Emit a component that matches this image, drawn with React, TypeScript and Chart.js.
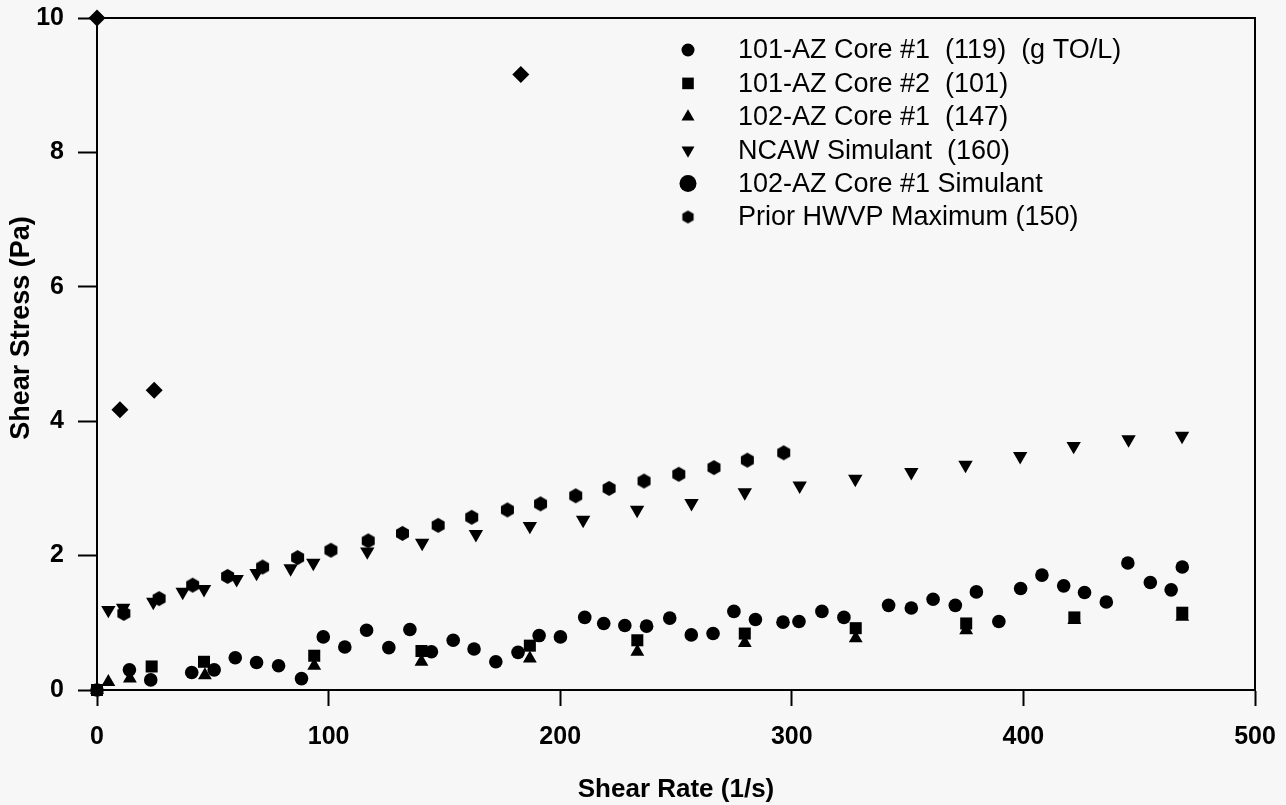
import { useEffect, useRef } from 'react';
import { Chart, registerables } from 'chart.js';
import { drawPoint } from 'chart.js/helpers';

Chart.register(...registerables);

// ---------- data ----------
const seriesLabels = [
  '101-AZ Core #1  (119)  (g TO/L)',
  '101-AZ Core #2  (101)',
  '102-AZ Core #1  (147)',
  'NCAW Simulant  (160)',
  '102-AZ Core #1 Simulant',
  'Prior HWVP Maximum (150)',
];

const xTicks = [0, 100, 200, 300, 400, 500];
const yTicks = [0, 2, 4, 6, 8, 10];

const core1X = [0, 14, 23.2, 40.9, 50.6, 59.7, 68.9, 78.4, 88.3, 97.7, 107, 116.4, 126, 135.1, 144.4, 153.8, 162.8, 172.2, 181.8, 190.9, 200.1, 210.6, 218.8, 227.9, 237.3, 247.3, 256.6, 266, 275, 284.3, 296.2, 303.1, 313, 322.5, 341.8, 351.6, 361, 370.6, 379.7, 389.4, 398.8, 408, 417.4, 426.4, 435.8, 445.1, 454.8, 463.8, 468.6];
const core1Y = [0, 0.3, 0.15, 0.26, 0.3, 0.48, 0.41, 0.36, 0.17, 0.79, 0.64, 0.89, 0.63, 0.9, 0.57, 0.74, 0.61, 0.42, 0.56, 0.81, 0.79, 1.08, 0.99, 0.96, 0.95, 1.07, 0.82, 0.84, 1.17, 1.05, 1.01, 1.02, 1.17, 1.08, 1.26, 1.22, 1.35, 1.26, 1.46, 1.02, 1.51, 1.71, 1.55, 1.45, 1.31, 1.89, 1.6, 1.49, 1.83];

const core2X = [0, 23.6, 46.2, 93.8, 140.1, 186.9, 233.3, 279.7, 327.6, 375.3, 422, 468.6];
const core2Y = [0, 0.35, 0.42, 0.51, 0.58, 0.66, 0.74, 0.84, 0.92, 0.99, 1.08, 1.15];

const az102X = [0, 4.9, 14.2, 46.6, 93.8, 140.1, 186.9, 233.3, 279.7, 327.6, 375.3, 422, 468.6];
const az102Y = [0, 0.12, 0.17, 0.22, 0.36, 0.42, 0.47, 0.57, 0.7, 0.77, 0.89, 1.04, 1.09];

const ncawX = [4.9, 11.3, 24.3, 37, 46.2, 60.3, 68.9, 83.6, 93.4, 116.7, 140.4, 163.6, 186.9, 209.9, 233.2, 256.7, 279.7, 303.4, 327.4, 351.6, 375, 398.6, 421.7, 445.4, 468.5];
const ncawY = [1.19, 1.22, 1.31, 1.46, 1.5, 1.65, 1.74, 1.81, 1.89, 2.06, 2.19, 2.32, 2.44, 2.53, 2.68, 2.78, 2.94, 3.04, 3.14, 3.24, 3.35, 3.48, 3.63, 3.73, 3.78];

const simX = [0, 9.9, 24.7, 183];
const simY = [10, 4.17, 4.46, 9.16];

const hwvpX = [11.6, 26.8, 41.3, 56.4, 71.5, 86.6, 101, 117.1, 131.9, 147.3, 161.8, 177.2, 191.5, 206.7, 221.1, 236.2, 251.2, 266.4, 280.8, 296.5];
const hwvpY = [1.14, 1.36, 1.56, 1.69, 1.83, 1.97, 2.08, 2.22, 2.33, 2.45, 2.57, 2.68, 2.77, 2.89, 3.0, 3.11, 3.21, 3.31, 3.42, 3.53];

const xTitle = 'Shear Rate (1/s)';
const yTitle = 'Shear Stress (Pa)';

// ---------- helpers ----------
const INK = '#000000';
const BG = '#f7f7f7';
const FONT = '"Liberation Sans", Arial, sans-serif';

function makeHexagon(r: number) {
  const c = document.createElement('canvas');
  const s = Math.ceil(r * 2 + 2);
  c.width = s;
  c.height = s;
  const g = c.getContext('2d')!;
  g.fillStyle = INK;
  g.beginPath();
  for (let i = 0; i < 6; i++) {
    const a = (Math.PI / 3) * i - Math.PI / 2;
    const px = s / 2 + r * Math.cos(a);
    const py = s / 2 + r * Math.sin(a);
    if (i === 0) g.moveTo(px, py);
    else g.lineTo(px, py);
  }
  g.closePath();
  g.fill();
  return c;
}

const pts = (xs: number[], ys: number[]) => xs.map((x, i) => ({ x, y: ys[i] }));

export default function App() {
  const ref = useRef<HTMLCanvasElement | null>(null);

  useEffect(() => {
    document.body.style.margin = '0';
    document.body.style.background = BG;
    const canvas = ref.current!;
    const hex = makeHexagon(7.5);
    const hexSmall = makeHexagon(6.5);

    const legendSymbols: any[] = [
      { pointStyle: 'circle', radius: 6.5, rotation: 0 },
      { pointStyle: 'rect', radius: 8.2, rotation: 0 },
      { pointStyle: 'triangle', radius: 7.5, rotation: 0 },
      { pointStyle: 'triangle', radius: 7.5, rotation: 180 },
      { pointStyle: 'circle', radius: 8.5, rotation: 0 },
      { pointStyle: hexSmall, radius: 6.5, rotation: 0 },
    ];

    const bgPlugin = {
      id: 'bg',
      beforeDraw(chart: any) {
        const { ctx, width, height } = chart;
        ctx.save();
        ctx.fillStyle = BG;
        ctx.fillRect(0, 0, width, height);
        ctx.restore();
      },
    };

    const framePlugin = {
      id: 'frame',
      beforeDatasetsDraw(chart: any) {
        const { ctx, chartArea: a } = chart;
        ctx.save();
        ctx.strokeStyle = INK;
        ctx.lineWidth = 2;
        ctx.beginPath();
        ctx.moveTo(a.left, a.top);
        ctx.lineTo(a.right, a.top);
        ctx.lineTo(a.right, a.bottom);
        ctx.stroke();
        ctx.restore();
      },
    };

    const textPlugin = {
      id: 'texts',
      afterDraw(chart: any) {
        const { ctx, chartArea: a } = chart;
        ctx.save();
        ctx.fillStyle = INK;
        ctx.strokeStyle = INK;
        // axis titles
        ctx.textAlign = 'center';
        ctx.textBaseline = 'middle';
        ctx.font = `bold 26px ${FONT}`;
        ctx.fillText(xTitle, (a.left + a.right) / 2, a.bottom + 100);
        ctx.save();
        ctx.translate(22, (a.top + a.bottom) / 2 - 26);
        ctx.rotate(-Math.PI / 2);
        ctx.font = `bold 27px ${FONT}`;
        ctx.fillText(yTitle, 0, 0);
        ctx.restore();
        // legend
        ctx.font = `27px ${FONT}`;
        ctx.textAlign = 'left';
        seriesLabels.forEach((label, i) => {
          const y = a.top + 32 + i * 33.4;
          const sym = legendSymbols[i];
          ctx.fillStyle = INK;
          drawPoint(ctx, { pointStyle: sym.pointStyle, radius: sym.radius, rotation: sym.rotation, borderWidth: 0 } as any, a.left + 591, y);
          ctx.fillStyle = INK;
          ctx.fillText(label, a.left + 641, y + 1);
        });
        ctx.restore();
      },
    };

    const common = {
      backgroundColor: INK,
      borderColor: INK,
      borderWidth: 0,
      showLine: false,
      clip: false as any,
    };

    const chart = new Chart(canvas, {
      type: 'scatter',
      data: {
        datasets: [
          { ...common, label: seriesLabels[0], data: pts(core1X, core1Y), pointStyle: 'circle', pointRadius: 6.8 },
          { ...common, label: seriesLabels[2], data: pts(az102X, az102Y), pointStyle: 'triangle', pointRadius: 8 },
          { ...common, label: seriesLabels[1], data: pts(core2X, core2Y), pointStyle: 'rect', pointRadius: 8.5 },
          { ...common, label: seriesLabels[3], data: pts(ncawX, ncawY), pointStyle: 'triangle', rotation: 180, pointRadius: 8.3 },
          { ...common, label: seriesLabels[4], data: pts(simX, simY), pointStyle: 'rectRot', pointRadius: 8.5 },
          { ...common, label: seriesLabels[5], data: pts(hwvpX, hwvpY), pointStyle: hex as any, pointRadius: 7.5 },
        ] as any,
      },
      plugins: [bgPlugin, framePlugin, textPlugin],
      options: {
        animation: false,
        responsive: false,
        devicePixelRatio: 1,
        layout: { padding: { left: 0, top: 18, right: 31, bottom: 0 } },
        plugins: {
          legend: { display: false },
          tooltip: { enabled: false },
        },
        scales: {
          x: {
            type: 'linear',
            min: 0,
            max: 500,
            afterBuildTicks: (scale: any) => {
              scale.ticks = xTicks.map((v) => ({ value: v }));
            },
            afterFit: (scale: any) => {
              scale.height = 115;
              scale.paddingLeft = 0;
              scale.paddingRight = 0;
              scale.paddingTop = 0;
              scale.paddingBottom = 0;
            },
            ticks: {
              color: INK,
              font: { family: FONT, size: 25, weight: 'bold' },
              padding: 16,
              maxRotation: 0,
              autoSkip: false,
            },
            grid: { drawOnChartArea: false, tickLength: 16, tickWidth: 2, color: INK },
            border: { color: INK, width: 2 },
          },
          y: {
            type: 'linear',
            min: 0,
            max: 10,
            afterBuildTicks: (scale: any) => {
              scale.ticks = yTicks.map((v) => ({ value: v }));
            },
            afterFit: (scale: any) => {
              scale.width = 97;
              scale.paddingLeft = 0;
              scale.paddingRight = 0;
              scale.paddingTop = 0;
              scale.paddingBottom = 0;
            },
            ticks: {
              color: INK,
              font: { family: FONT, size: 25, weight: 'bold' },
              padding: 14,
              autoSkip: false,
            },
            grid: { drawOnChartArea: false, tickLength: 19, tickWidth: 2, color: INK },
            border: { color: INK, width: 2 },
          },
        },
      } as any,
    });
    return () => chart.destroy();
  }, []);

  return <canvas ref={ref} width={1286} height={805} style={{ display: 'block', width: 1286, height: 805 }} />;
}
